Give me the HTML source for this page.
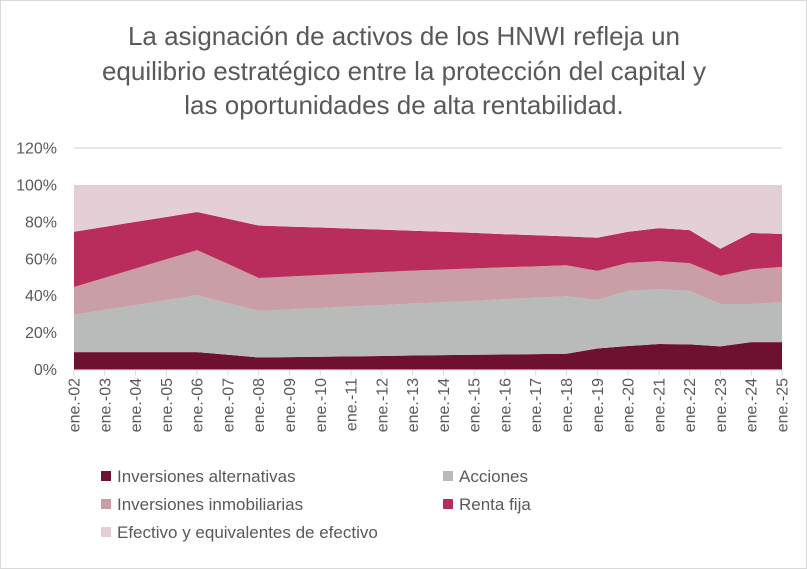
<!DOCTYPE html>
<html><head><meta charset="utf-8"><style>
body{margin:0;background:#fff;}
svg{display:block;font-family:"Liberation Sans",sans-serif;}
</style></head><body>
<svg id="chart" width="807" height="569" viewBox="0 0 807 569">
<rect x="0.5" y="0.5" width="806" height="568" fill="#fff" stroke="#d9d9d9"/>
<g fill="#595959" font-size="26" text-anchor="middle">
<text x="404" y="45">La asignación de activos de los HNWI refleja un</text>
<text x="404" y="80">equilibrio estratégico entre la protección del capital y</text>
<text x="404" y="114">las oportunidades de alta rentabilidad.</text>
</g>
<g id="plot"></g>
<g id="legend" font-size="17" fill="#595959"></g>
</svg>
<script>
const categories=["ene.-02","ene.-03","ene.-04","ene.-05","ene.-06","ene.-07","ene.-08","ene.-09","ene.-10","ene.-11","ene.-12","ene.-13","ene.-14","ene.-15","ene.-16","ene.-17","ene.-18","ene.-19","ene.-20","ene.-21","ene.-22","ene.-23","ene.-24","ene.-25"];
const alternativas=[9.4,9.4,9.4,9.4,9.4,8,6.5,6.7,6.9,7.1,7.3,7.6,7.8,8,8.1,8.3,8.5,11.4,12.7,13.8,13.6,12.5,14.8,14.8];
const acciones=[20.3,22.9,25.5,28.2,30.8,28,25.2,25.8,26.4,27,27.6,28.1,28.7,29.2,30,30.6,31.2,26.3,29.9,29.7,29,23,20.7,21.6];
const inmobiliarias=[15,17.4,19.8,22.1,24.5,21.2,17.9,17.9,17.9,17.9,17.9,17.9,17.7,17.6,17.3,17,16.8,15.7,15.2,15.2,15,15.2,18.8,19.2];
const rentaFija=[29.9,27.6,25.3,22.9,20.6,24.5,28.4,27,25.7,24.3,23,21.6,20.4,19.2,17.9,16.8,15.6,18,16.8,17.9,17.9,14.7,19.7,17.8];
const efectivo=[25.4,22.7,20,17.4,14.7,18.3,22,22.6,23.1,23.7,24.2,24.8,25.4,26,26.7,27.3,27.9,28.6,25.4,23.4,24.5,34.6,26,26.6];
const yTicks=[0,20,40,60,80,100,120];
const seriesNames=["Inversiones alternativas","Acciones","Inversiones inmobiliarias","Renta fija","Efectivo y equivalentes de efectivo"];
const colors=["#6e1030","#b8bbb9","#c99ea6","#b92d5c","#e3cfd5"];
const NS="http://www.w3.org/2000/svg";
const X0=74,X1=782,Y0=369.5,Y1=148;
const xs=i=>X0+(X1-X0)*i/(categories.length-1);
const ys=v=>Y0-(Y0-Y1)*v/120;
const plot=document.getElementById('plot');
function mk(t,a,p){const e=document.createElementNS(NS,t);for(const k in a)e.setAttribute(k,a[k]);(p||plot).appendChild(e);return e;}
yTicks.forEach(t=>{
 const lbl=mk('text',{x:57,y:ys(t)+5.5,'text-anchor':'end','font-size':16,fill:'#595959'});
 lbl.textContent=t+'%';
 
 
});
const g=mk('line',{x1:X0,x2:X1,y1:ys(120),y2:ys(120),stroke:'#d9d9d9','stroke-width':1.3});


const all=[alternativas,acciones,inmobiliarias,rentaFija,efectivo];
let base=categories.map(()=>0);
all.forEach((s,k)=>{
 const top=base.map((b,i)=>b+s[i]);
 let d='M'+categories.map((c,i)=>xs(i)+','+ys(top[i])).join('L');
 for(let i=categories.length-1;i>=0;i--)d+='L'+xs(i)+','+ys(base[i]);
 const p=mk('path',{d:d+'Z',fill:colors[k]});
 
 
 base=top;
});
const ax=mk('line',{x1:X0,x2:X1,y1:Y0+0.5,y2:Y0+0.5,stroke:'#d9d9d9','stroke-width':1.3});


categories.forEach((c,i)=>{
 mk('line',{x1:xs(i),x2:xs(i),y1:Y0,y2:Y0+6,stroke:'#d9d9d9'});
 const t=mk('text',{transform:`translate(${xs(i)+5.5},378) rotate(-90)`,'text-anchor':'end','font-size':16,fill:'#595959'});
 t.textContent=c;
 
 
});
const leg=document.getElementById('legend');
const pos=[[101,476],[443,476],[101,504],[443,504],[101,532]];
seriesNames.forEach((n,k)=>{
 const gr=mk('g',{},leg);
 
 
 mk('rect',{x:pos[k][0],y:pos[k][1]-5,width:10,height:10,fill:colors[k]},gr);
 const t=mk('text',{x:pos[k][0]+16,y:pos[k][1]+6},gr);
 t.textContent=n;
});
</script>
</body></html>
